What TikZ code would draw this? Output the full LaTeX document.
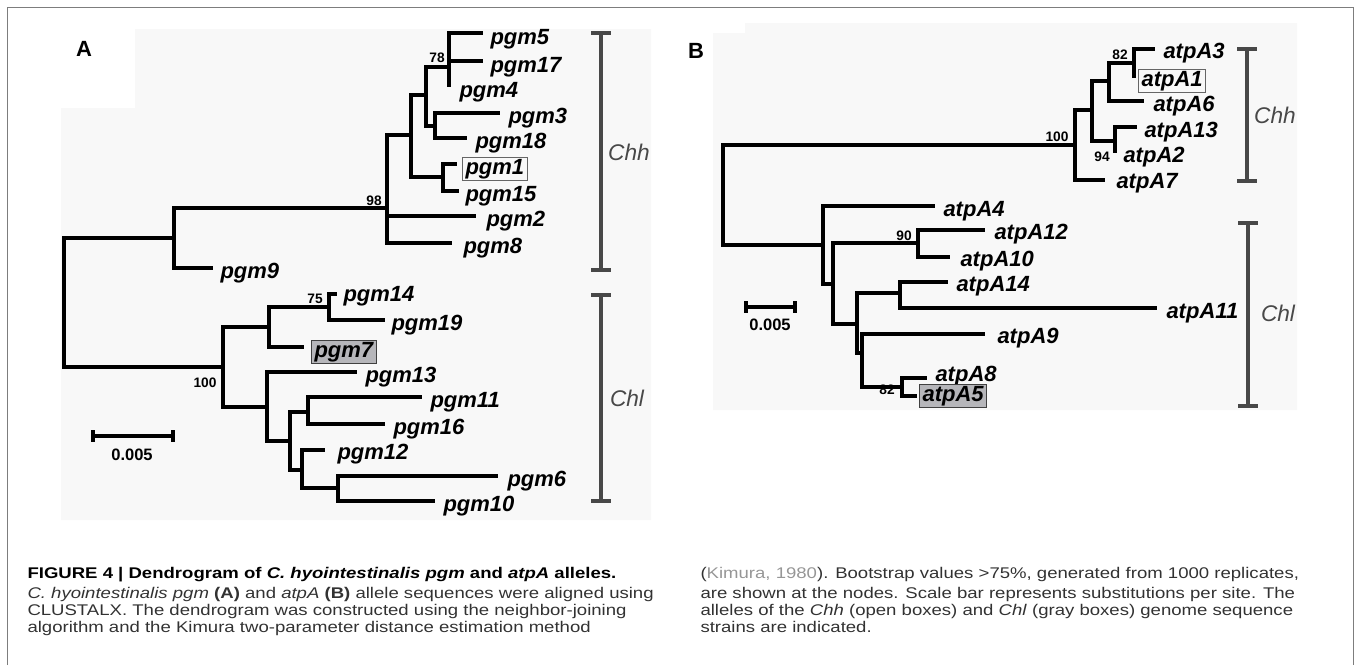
\documentclass[tikz,border=0pt]{standalone}
\usepackage{fontspec}
\setmainfont{Liberation Sans}
\newfontfamily\capfont[FakeStretch=1.2]{Liberation Sans}
\definecolor{framegray}{RGB}{125,125,125}
\definecolor{bracketgray}{RGB}{72,72,72}
\definecolor{boxgray}{RGB}{182,182,186}
\definecolor{panelbg}{RGB}{248,248,248}
\definecolor{captext}{RGB}{50,50,50}
\definecolor{citegray}{RGB}{150,150,150}

\tikzset{every picture/.style={line width=0.75pt}}

\begin{document}
\begin{tikzpicture}[x=0.75pt,y=0.75pt,yscale=-1,xscale=1,
  branch/.style={line width=2.8pt},
  leaf/.style={anchor=west, inner sep=0pt, font=\fontsize{16.5}{18}\selectfont\bfseries\itshape},
  openbox/.style={leaf, draw=black!60, line width=0.9pt, inner xsep=2.2pt, inner ysep=1pt},
  graybox/.style={openbox, fill=boxgray, draw=black!75},
  boot/.style={inner sep=0pt, font=\fontsize{10.3}{12}\selectfont\bfseries},
  brkt/.style={draw=bracketgray, line width=2.5pt},
  clade/.style={inner sep=0pt, text=bracketgray, font=\fontsize{17}{20}\selectfont\itshape},
  scalelab/.style={inner sep=0pt, font=\fontsize{12.4}{14}\selectfont\bfseries},
  panel/.style={inner sep=0pt, font=\fontsize{16.5}{18}\selectfont\bfseries},
  capline/.style={anchor=base west, inner sep=0pt, text=captext, font=\capfont\fontsize{11.6}{13}\selectfont}]
\useasboundingbox (0,0) rectangle (1359,665);

%Panel backgrounds
\fill[panelbg] (61,520) -- (61,108) -- (135,108) -- (135,29) -- (651,29) -- (651,520) -- cycle;
\fill[panelbg] (713,410) -- (713,33) -- (745,33) -- (745,23) -- (1297,23) -- (1297,410) -- cycle;
%Frame
\draw[framegray, line width=1.2pt] (7.5,665) -- (7.5,7.5) -- (1353.5,7.5) -- (1353.5,665);

% Panel letters
\node[panel] (labA) at (84,49) {A};
\node[panel] (labB) at (696,51) {B};

%Tree A: internal nodes
\coordinate (rA) at (64,302);
\coordinate (a1) at (174,238);
\coordinate (a98) at (387,208);
\coordinate (a2) at (411,135);
\coordinate (a3) at (426,95);
\coordinate (a78) at (449,67);
\coordinate (a5) at (435,126);
\coordinate (a4) at (443,177);
\coordinate (a100) at (223,367);
\coordinate (a6) at (269,327);
\coordinate (a75) at (329,307);
\coordinate (a7) at (267,407);
\coordinate (a8) at (290,441);
\coordinate (a9) at (308,412);
\coordinate (a10) at (302,470);
\coordinate (a11) at (338,488);
%Tree A: tips
\coordinate (pgm5) at (483,33);
\coordinate (pgm17) at (483,61);
\coordinate (pgm4) at (449,87);
\coordinate (pgm3) at (500,113);
\coordinate (pgm18) at (467,138);
\coordinate (pgm1) at (457,164);
\coordinate (pgm15) at (459,191);
\coordinate (pgm2) at (476,216);
\coordinate (pgm8) at (452,243);
\coordinate (pgm9) at (213,268);
\coordinate (pgm14) at (337,294);
\coordinate (pgm19) at (385,320);
\coordinate (pgm7) at (304,347);
\coordinate (pgm13) at (357,372);
\coordinate (pgm11) at (422,397);
\coordinate (pgm16) at (385,424);
\coordinate (pgm12) at (325,450);
\coordinate (pgm6) at (498,476);
\coordinate (pgm10) at (435,501);

%Tree A: branches
\draw[branch] (rA) |- (a1) (rA) |- (a100);
\draw[branch] (a1) |- (a98) (a1) |- (pgm9);
\draw[branch] (a98) |- (a2) (a98) |- (pgm2) (a98) |- (pgm8);
\draw[branch] (a2) |- (a3) (a2) |- (a4);
\draw[branch] (a3) |- (a78) (a3) |- (a5);
\draw[branch] (a78) |- (pgm5) (a78) |- (pgm17) (a78) |- (pgm4);
\draw[branch] (a5) |- (pgm3) (a5) |- (pgm18);
\draw[branch] (a4) |- (pgm1) (a4) |- (pgm15);
\draw[branch] (a100) |- (a6) (a100) |- (a7);
\draw[branch] (a6) |- (a75) (a6) |- (pgm7);
\draw[branch] (a75) |- (pgm14) (a75) |- (pgm19);
\draw[branch] (a7) |- (pgm13) (a7) |- (a8);
\draw[branch] (a8) |- (a9) (a8) |- (a10);
\draw[branch] (a9) |- (pgm11) (a9) |- (pgm16);
\draw[branch] (a10) |- (pgm12) (a10) |- (a11);
\draw[branch] (a11) |- (pgm6) (a11) |- (pgm10);

%Tree A: tip labels
\node[leaf] (lpgm5) at ([shift={(7,6)}]pgm5) {pgm5};
\node[leaf] (lpgm17) at ([shift={(7,6)}]pgm17) {pgm17};
\node[leaf] (lpgm4) at ([shift={(10,5)}]pgm4) {pgm4};
\node[leaf] (lpgm3) at ([shift={(8,5)}]pgm3) {pgm3};
\node[leaf] (lpgm18) at ([shift={(8,5)}]pgm18) {pgm18};
\node[openbox] (lpgm1) at ([shift={(5,5)}]pgm1) {pgm1};
\node[leaf] (lpgm15) at ([shift={(6,5)}]pgm15) {pgm15};
\node[leaf] (lpgm2) at ([shift={(10,5)}]pgm2) {pgm2};
\node[leaf] (lpgm8) at ([shift={(11,5)}]pgm8) {pgm8};
\node[leaf] (lpgm9) at ([shift={(7,5)}]pgm9) {pgm9};
\node[leaf] (lpgm14) at ([shift={(6,2)}]pgm14) {pgm14};
\node[leaf] (lpgm19) at ([shift={(6,5)}]pgm19) {pgm19};
\node[graybox] (lpgm7) at ([shift={(7,5)}]pgm7) {pgm7};
\node[leaf] (lpgm13) at ([shift={(8,5)}]pgm13) {pgm13};
\node[leaf] (lpgm11) at ([shift={(8,5)}]pgm11) {pgm11};
\node[leaf] (lpgm16) at ([shift={(8,5)}]pgm16) {pgm16};
\node[leaf] (lpgm12) at ([shift={(12,4)}]pgm12) {pgm12};
\node[leaf] (lpgm6) at ([shift={(9,5)}]pgm6) {pgm6};
\node[leaf] (lpgm10) at ([shift={(8,5)}]pgm10) {pgm10};

%Tree A: bootstrap values
\node[boot] (b78A) at (437,58) {78};
\node[boot] (b98A) at (374,201) {98};
\node[boot] (b75A) at (315,299) {75};
\node[boot] (b100A) at (205,383) {100};

%Tree A: clade brackets
\draw[brkt] (591,33) -- (611,33) (601,33) -- (601,270) (591,270) -- (611,270);
\draw[brkt] (591,295) -- (611,295) (601,295) -- (601,501) (591,501) -- (611,501);
\node[clade] (chhA) at (629,152) {Chh};
\node[clade] (chlA) at (627,398) {Chl};

%Tree A: scale bar
\coordinate (sA1) at (93,436);
\coordinate (sA2) at (173,436);
\draw[branch] (sA1) -- (sA2) ([yshift=-4.5pt]sA1) -- ([yshift=4.5pt]sA1) ([yshift=-4.5pt]sA2) -- ([yshift=4.5pt]sA2);
\node[scalelab] (sclA) at (132,455) {0.005};

%Tree B: internal nodes
\coordinate (rB) at (723,195);
\coordinate (b100) at (1075,145);
\coordinate (b12) at (1092,110);
\coordinate (b13) at (1109,81);
\coordinate (b82) at (1134,63);
\coordinate (b94) at (1115,141);
\coordinate (b14) at (823,245);
\coordinate (b15) at (833,284);
\coordinate (b90) at (918,243);
\coordinate (b16) at (857,324);
\coordinate (b17) at (900,293);
\coordinate (b18) at (862,353);
\coordinate (b82b) at (902,387);
%Tree B: tips
\coordinate (atpA3) at (1155,49);
\coordinate (atpA1) at (1134,78);
\coordinate (atpA6) at (1144,101);
\coordinate (atpA13) at (1137,127);
\coordinate (atpA2) at (1115,153);
\coordinate (atpA7) at (1105,180);
\coordinate (atpA4) at (935,206);
\coordinate (atpA12) at (985,230);
\coordinate (atpA10) at (950,257);
\coordinate (atpA14) at (948,282);
\coordinate (atpA11) at (1157,308);
\coordinate (atpA9) at (985,334);
\coordinate (atpA8) at (927,378);
\coordinate (atpA5) at (917,396);

%Tree B: branches
\draw[branch] (rB) |- (b100) (rB) |- (b14);
\draw[branch] (b100) |- (b12) (b100) |- (atpA7);
\draw[branch] (b12) |- (b13) (b12) |- (b94);
\draw[branch] (b13) |- (b82) (b13) |- (atpA6);
\draw[branch] (b82) |- (atpA3) (b82) |- (atpA1);
\draw[branch] (b94) |- (atpA13) (b94) |- (atpA2);
\draw[branch] (b14) |- (atpA4) (b14) |- (b15);
\draw[branch] (b15) |- (b90) (b15) |- (b16);
\draw[branch] (b90) |- (atpA12) (b90) |- (atpA10);
\draw[branch] (b16) |- (b17) (b16) |- (b18);
\draw[branch] (b17) |- (atpA14) (b17) |- (atpA11);
\draw[branch] (b18) |- (atpA9) (b18) |- (b82b);
\draw[branch] (b82b) |- (atpA8) (b82b) |- (atpA5);

%Tree B: tip labels
\node[leaf] (latpA3) at ([shift={(8,4)}]atpA3) {atpA3};
\node[openbox] (latpA1) at ([shift={(4,3)}]atpA1) {atpA1};
\node[leaf] (latpA6) at ([shift={(9,5)}]atpA6) {atpA6};
\node[leaf] (latpA13) at ([shift={(7,5)}]atpA13) {atpA13};
\node[leaf] (latpA2) at ([shift={(8,4)}]atpA2) {atpA2};
\node[leaf] (latpA7) at ([shift={(11,3)}]atpA7) {atpA7};
\node[leaf] (latpA4) at ([shift={(8,5)}]atpA4) {atpA4};
\node[leaf] (latpA12) at ([shift={(9,4)}]atpA12) {atpA12};
\node[leaf] (latpA10) at ([shift={(10,4)}]atpA10) {atpA10};
\node[leaf] (latpA14) at ([shift={(8,4)}]atpA14) {atpA14};
\node[leaf] (latpA11) at ([shift={(9,5)}]atpA11) {atpA11};
\node[leaf] (latpA9) at ([shift={(12,4)}]atpA9) {atpA9};
\node[leaf] (latpA8) at ([shift={(8,-2)}]atpA8) {atpA8};
\node[graybox] (latpA5) at ([shift={(2,0)}]atpA5) {atpA5};

%Tree B: bootstrap values
\node[boot] (b100B) at (1057,137) {100};
\node[boot] (b82B) at (1120,55) {82};
\node[boot] (b94B) at (1102,157) {94};
\node[boot] (b90B) at (904,236) {90};
\node[boot] (b82bB) at (887,390) {82};

%Tree B: clade brackets
\draw[brkt] (1237,49) -- (1257,49) (1247,49) -- (1247,181) (1237,181) -- (1257,181);
\draw[brkt] (1238,223) -- (1258,223) (1248,223) -- (1248,406) (1238,406) -- (1258,406);
\node[clade] (chhB) at (1275,115) {Chh};
\node[clade] (chlB) at (1278,313) {Chl};

%Tree B: scale bar
\coordinate (sB1) at (746,307);
\coordinate (sB2) at (795,307);
\draw[branch] (sB1) -- (sB2) ([yshift=-4.5pt]sB1) -- ([yshift=4.5pt]sB1) ([yshift=-4.5pt]sB2) -- ([yshift=4.5pt]sB2);
\node[scalelab] (sclB) at (770,325) {0.005};

% Caption, left column
\node[capline, text=black] (capL1) at (27,578) {\bfseries FIGURE 4 | Dendrogram of \textit{C. hyointestinalis pgm} and \textit{atpA} alleles.};
\node[capline] (capL2) at (27,598) {\textit{C. hyointestinalis pgm} \textbf{(A)} and \textit{atpA} \textbf{(B)} allele sequences were aligned using};
\node[capline] (capL3) at (27,615) {CLUSTALX. The dendrogram was constructed using the neighbor-joining};
\node[capline] (capL4) at (27,632) {algorithm and the Kimura two-parameter distance estimation method};
% Caption, right column
\node[capline] (capR1) at (700,578) {(\textcolor{citegray}{Kimura, 1980}). Bootstrap values >75\%, generated from 1000 replicates,};
\node[capline] (capR2) at (700,598) {are shown at the nodes. Scale bar represents substitutions per site. The};
\node[capline] (capR3) at (700,615) {alleles of the \textit{Chh} (open boxes) and \textit{Chl} (gray boxes) genome sequence};
\node[capline] (capR4) at (700,632) {strains are indicated.};
\end{tikzpicture}
\end{document}
